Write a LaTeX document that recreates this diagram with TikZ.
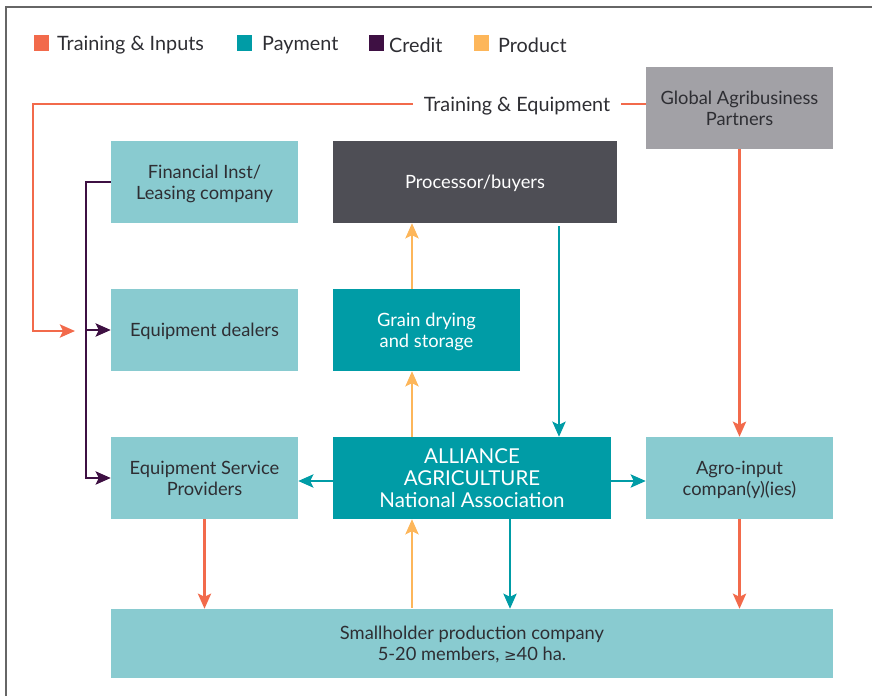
\documentclass[tikz,border=0pt]{standalone}
\usepackage{fontspec}
\setmainfont{Lato}
\usetikzlibrary{arrows.meta}
\definecolor{cOr}{HTML}{F26A4B}
\definecolor{cTeal}{HTML}{009CA6}
\definecolor{cLt}{HTML}{89CBD0}
\definecolor{cPur}{HTML}{3E1043}
\definecolor{cProd}{HTML}{FDB65A}
\definecolor{cGray}{HTML}{A2A1A6}
\definecolor{cDark}{HTML}{4E4E55}
\definecolor{cTxt}{HTML}{2E2E33}
\tikzset{
  box/.style={rectangle, inner sep=0pt, align=center, text=cTxt, text depth=0pt,
    font=\fontsize{18.3}{21}\selectfont},
  lbox/.style={box, fill=cLt, minimum width=187pt, minimum height=82pt},
  tip/.style={-{Stealth[length=15pt,width=13pt,inset=3pt]}},
  flow/.style={line width=2.8pt},
  train/.style={flow, cOr},
  pay/.style={flow, cTeal},
  cred/.style={flow, cPur},
  prod/.style={flow, cProd},
  legsq/.style={rectangle, inner sep=0pt, minimum width=15pt, minimum height=16pt},
  legtx/.style={anchor=west, inner sep=0pt, text=cTxt, font=\fontsize{19.8}{22}\selectfont},
}
\begin{document}
\begin{tikzpicture}[x=1pt,y=-1pt]
\useasboundingbox (0,0) rectangle (872,696);
% frame
\draw[line width=1.6pt, gray!80!black] (6,696) -- (6,7) -- (872,7);
% legend
\node[legsq, fill=cOr] (l1) at (41,43) {};
\node[legtx] (t1) at (57,45) {Training \& Inputs};
\node[legsq, fill=cTeal] (l2) at (244.5,43) {};
\node[legtx] (t2) at (262,45) {Payment};
\node[legsq, fill=cPur] (l3) at (376.5,43) {};
\node[legtx] (t3) at (389,45) {Credit};
\node[legsq, fill=cProd] (l4) at (481.5,43) {};
\node[legtx] (t4) at (498,45) {Product};
% boxes
\node[lbox] (fin) at (204.5,182) {Financial Inst/\\Leasing company};
\node[lbox] (dea) at (204.5,330) {Equipment dealers};
\node[lbox] (esp) at (204.5,478) {Equipment Service\\Providers};
\node[box, fill=cDark, text=white, minimum width=284pt, minimum height=82pt] (proc) at (475,182) {Processor/buyers};
\node[box, fill=cTeal, text=white, minimum width=187pt, minimum height=82pt] (grain) at (426.5,330) {Grain drying\\and storage};
\node[box, fill=cTeal, text=white, minimum width=278pt, minimum height=82pt,
  font=\fontsize{20.5}{22}\selectfont] (all) at (472,478) {ALLIANCE\\AGRICULTURE\\National Association};
\node[lbox] (agro) at (739.5,478) {Agro-input\\compan(y)(ies)};
\node[box, fill=cGray, minimum width=187pt, minimum height=82pt] (glob) at (739.5,108) {Global Agribusiness\\Partners};
\node[box, fill=cLt, minimum width=722pt, minimum height=69pt] (sh) at (472,643.5) {Smallholder production company\\5-20 members, {\fontspec{DejaVu Sans}\fontsize{15}{21}\selectfont ≥}40 ha.};
% training & equipment line
\node[legtx, anchor=center, inner xsep=11pt, inner ysep=3pt] (te) at (517,106) {Training \& Equipment};
\coordinate (teA) at (33,104);
\coordinate (teB) at (33,331);
\coordinate (teC) at (75,331);
\draw[train] (glob.west |- teA) -- (te.east |- teA);
\draw[train, tip] (te.west |- teA) -- (teA) -- (teB) -- (teC);
% credit
\coordinate (cB) at (86,478);
\draw[cred, tip] (fin.west) -| (cB) -- (esp.west);
\draw[cred, tip] (cB |- dea.west) -- (dea.west);
% payment
\draw[pay, tip] ([yshift=-3pt]all.west) -- ([yshift=-3pt]esp.east);
\draw[pay, tip] ([yshift=-3pt]all.east) -- ([yshift=-3pt]agro.west);
\draw[pay, tip, shorten <=3pt] ([xshift=84pt]proc.south) -- ([xshift=87pt]all.north);
\draw[pay, tip] ([xshift=38pt]all.south) -- ([xshift=38pt]sh.north);
% product
\draw[prod, tip, shorten <=1pt] ([xshift=-60pt]sh.north) -- ([xshift=-60pt]all.south);
\draw[prod, tip] ([xshift=-60pt]all.north) -- ([xshift=-14.5pt]grain.south);
\draw[prod, tip] ([xshift=-14.5pt]grain.north) -- ([xshift=-63pt]proc.south);
% training & inputs
\draw[train, tip] (glob.south) -- (agro.north);
\draw[train, tip] (agro.south) -- (sh.north -| agro.south);
\draw[train, tip] (esp.south) -- (sh.north -| esp.south);
\end{tikzpicture}
\end{document}
